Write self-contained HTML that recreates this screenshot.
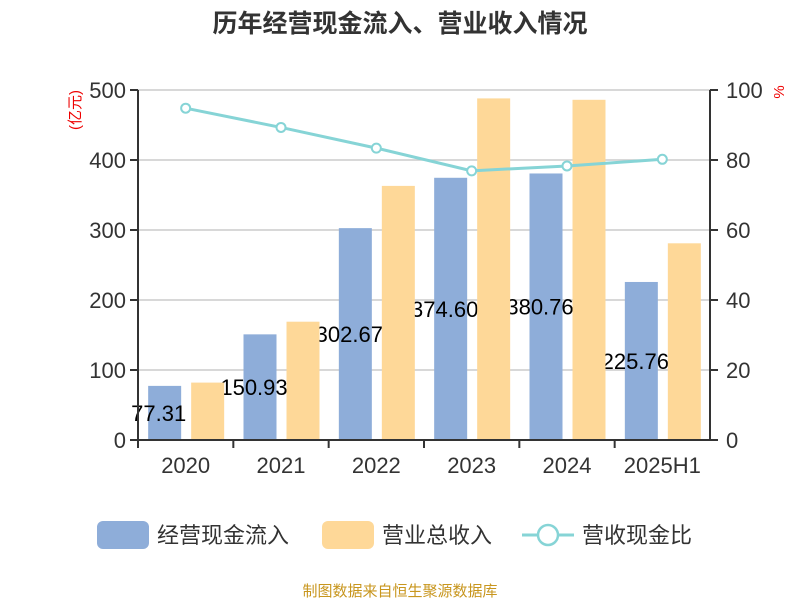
<!DOCTYPE html>
<html><head><meta charset="utf-8"><style>
body{margin:0;background:#fff;}
text{font-family:"Liberation Sans","Noto Sans CJK SC",sans-serif;}
</style></head><body>
<svg id="c" width="800" height="600" xmlns="http://www.w3.org/2000/svg">
<text x="400" y="32" text-anchor="middle" font-size="25" font-weight="bold" fill="#333">历年经营现金流入、营业收入情况</text>
<text transform="translate(80,110) rotate(-90)" text-anchor="middle" font-size="15" fill="#e00">(亿元)</text>
<text transform="translate(784,92) rotate(-90)" text-anchor="middle" font-size="15" fill="#e00">%</text>
<g id="grid"></g><g id="bars"></g><g id="line"></g><g id="axes"></g>
<g>
<rect x="97" y="521" width="52" height="28" rx="6" fill="#8eadd9"/>
<text x="157" y="543" font-size="22" fill="#333">经营现金流入</text>
<rect x="322" y="521" width="52" height="28" rx="6" fill="#fed898"/>
<text x="382" y="543" font-size="22" fill="#333">营业总收入</text>
<line x1="522" y1="535" x2="574" y2="535" stroke="#86d4d6" stroke-width="3"/>
<circle cx="548" cy="535" r="10" fill="#fff" stroke="#86d4d6" stroke-width="2.5"/>
<text x="582" y="543" font-size="22" fill="#333">营收现金比</text>
</g>
<text x="400" y="596" text-anchor="middle" font-size="15" fill="#c8961e">制图数据来自恒生聚源数据库</text>
</svg>
<script>
const categories=["2020","2021","2022","2023","2024","2025H1"];
const cashIn=[77.31,150.93,302.67,374.60,380.76,225.76];
const revenue=[82,169,363,488,486,281];
const ratio=[94.8,89.3,83.4,76.9,78.3,80.2];
const leftTicks=[0,100,200,300,400,500];
const rightTicks=[0,20,40,60,80,100];
const NS="http://www.w3.org/2000/svg";
const L=138,R=710,T=90,B=440;
const bw=(R-L)/categories.length;
const yL=v=>B-(v/500)*(B-T);
const yR=v=>B-(v/100)*(B-T);
const xC=i=>L+bw*(i+0.5);
function mk(tag,attrs,parent,txt){const e=document.createElementNS(NS,tag);for(const k in attrs)e.setAttribute(k,attrs[k]);if(txt!==undefined)e.textContent=txt;document.getElementById(parent).appendChild(e);return e;}
leftTicks.forEach((t,i)=>{
 if(t>0){const g=mk('line',{x1:L,x2:R,y1:yL(t),y2:yL(t),stroke:'#ccc','stroke-width':1.5},'grid');
 
 }
 const a=mk('line',{x1:L-8,x2:L,y1:yL(t),y2:yL(t),stroke:'#333','stroke-width':2},'axes');
 
 
 const lt=mk('text',{x:L-12,y:yL(t)+8,'text-anchor':'end','font-size':22,fill:'#333'},'axes',t);
 
 
});
rightTicks.forEach(t=>{
 const a=mk('line',{x1:R,x2:R+8,y1:yR(t),y2:yR(t),stroke:'#333','stroke-width':2},'axes');
 
 
 const rt=mk('text',{x:R+16,y:yR(t)+8,'font-size':22,fill:'#333'},'axes',t);
 
 
});
let ax=mk('line',{x1:L,x2:L,y1:T,y2:B,stroke:'#333','stroke-width':2},'axes');


ax=mk('line',{x1:R,x2:R,y1:T,y2:B,stroke:'#333','stroke-width':2},'axes');


ax=mk('line',{x1:L,x2:R,y1:B,y2:B,stroke:'#333','stroke-width':2},'axes');


categories.forEach((c,i)=>{
 const tk=mk('line',{x1:L+bw*i,x2:L+bw*i,y1:B,y2:B+8,stroke:'#333','stroke-width':2},'axes');
 
 
 const xl=mk('text',{x:xC(i),y:B+33,'text-anchor':'middle','font-size':22,fill:'#333'},'axes',c);
 
 
});
const barW=33;
categories.forEach((c,i)=>{
 const bx=xC(i)-21;
 const b=mk('rect',{x:bx-barW/2,y:yL(cashIn[i]),width:barW,height:B-yL(cashIn[i]),fill:'#8eadd9'},'bars');
 
 
 const lb=mk('text',{x:bx-6,y:(yL(cashIn[i])+B)/2+8,'text-anchor':'middle','font-size':22,fill:'#000'},'bars',cashIn[i].toFixed(2));
 
 
});
categories.forEach((c,i)=>{
 const ox=xC(i)+22;
 const b=mk('rect',{x:ox-barW/2,y:yL(revenue[i]),width:barW,height:B-yL(revenue[i]),fill:'#fed898'},'bars');
 
 
});
const pts=ratio.map((v,i)=>xC(i)+','+yR(v)).join(' ');
const pl=mk('polyline',{points:pts,fill:'none',stroke:'#86d4d6','stroke-width':3},'line');


ratio.forEach((v,i)=>{
 const p=mk('circle',{cx:xC(i),cy:yR(v),r:4.5,fill:'#fff',stroke:'#86d4d6','stroke-width':2},'line');
 
 
});
</script>
</body></html>
